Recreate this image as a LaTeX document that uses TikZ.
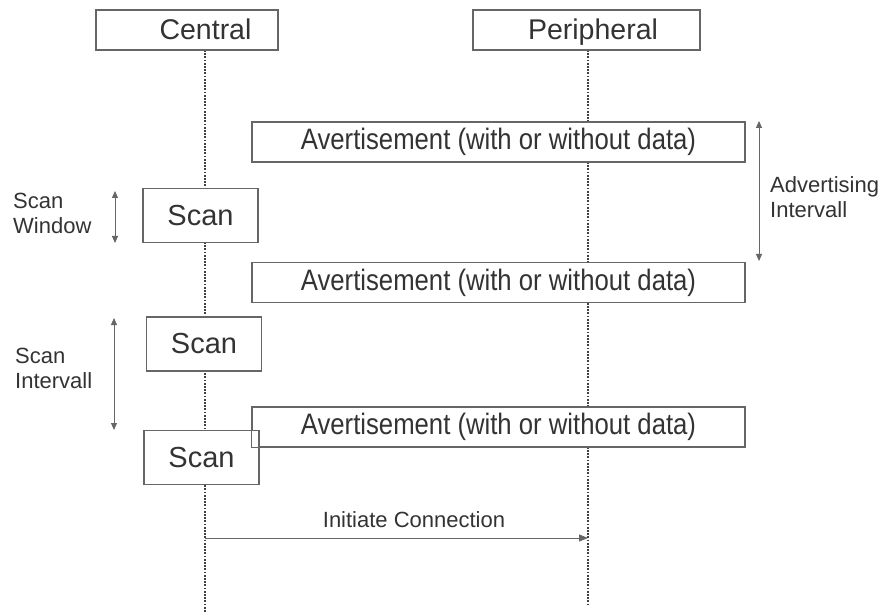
\documentclass[tikz,border=0pt]{standalone}
\usepackage{fontspec}
\setmainfont{Liberation Sans}
\usetikzlibrary{arrows.meta}
\definecolor{txt}{HTML}{333333}
\definecolor{ln}{HTML}{666666}
\begin{document}
\begin{tikzpicture}[x=1pt,y=-1pt,
  frame/.style={draw=ln,line width=1.3pt,fill=white,inner sep=0pt},
  headtxt/.style={text=txt,inner sep=0pt,anchor=base,font=\fontsize{28.5}{32}\selectfont},
  adv/.style={frame,text=txt,minimum width=493,minimum height=40,font=\fontsize{25.7}{28}\selectfont},
  scanbox/.style={frame,text=txt,minimum width=115,minimum height=54,font=\fontsize{29}{32}\selectfont},
  life/.style={draw=black!75,line width=1.8pt,dash pattern=on 1.8pt off 1.4pt},
  lbl/.style={text=txt,font=\fontsize{22}{25}\selectfont,align=left,inner sep=0pt},
  dim/.style={draw=ln,line width=0.8pt,{Triangle[length=7pt,width=6pt]}-{Triangle[length=7pt,width=6pt]}}]
\useasboundingbox[fill=white] (0,0) rectangle (888,612);
\newcommand{\tall}[1]{\scalebox{1}[1.15]{#1}}
% lifelines
\coordinate (cTop) at (205,50);
\coordinate (cBot) at (205,612);
\coordinate (pTop) at (588,50);
\coordinate (pBot) at (588,606);
\draw[life] (cTop) -- (cBot);
\draw[life] (pTop) -- (pBot);
% headers
\node[frame,minimum width=182,minimum height=40] (central) at (187,30) {};
\node[headtxt] (centralT) at (205.5,40) {Central};
\node[frame,minimum width=227,minimum height=40] (peripheral) at (586.5,30) {};
\node[headtxt] (peripheralT) at (593,40) {Peripheral};
% advertisement boxes
\node[adv] (a1) at (498.5,142) {\tall{Avertisement (with or without data)}};
\node[adv] (a2) at (498.5,282.5) {\tall{Avertisement (with or without data)}};
% scan boxes
\node[scanbox] (s1) at (200.5,215.5) {Scan};
\node[scanbox] (s2) at (204,344) {Scan};
\node[adv] (a3) at (498.5,427) {\tall{Avertisement (with or without data)}};
\node[scanbox] (s3) at (201.5,457.5) {Scan};
\draw[draw=ln,line width=1.3pt] (a3.south west) rectangle (a3.north east);
% dimension arrows
\coordinate (w1) at (115,191);
\coordinate (w2) at (115,243);
\draw[dim] (w1) -- (w2);
\node[lbl,anchor=base west] (swl) at (13,234) {Scan\\Window};
\coordinate (i1) at (114,318);
\coordinate (i2) at (114,430);
\draw[dim] (i1) -- (i2);
\node[lbl,anchor=base west] (sil) at (15,388) {Scan\\Intervall};
\coordinate (v1) at (759,121);
\coordinate (v2) at (759,261);
\draw[dim] (v1) -- (v2);
\node[lbl,anchor=base west] (avl) at (770,218) {Advertising\\Intervall};
% initiate connection
\coordinate (ic1) at (205,538);
\coordinate (ic2) at (588,538);
\draw[draw=ln,line width=0.8pt,-{Triangle[length=9pt,width=7pt]}] (ic1) -- (ic2);
\node[lbl,anchor=base] (icl) at (414,527) {Initiate Connection};
\end{tikzpicture}
\end{document}
